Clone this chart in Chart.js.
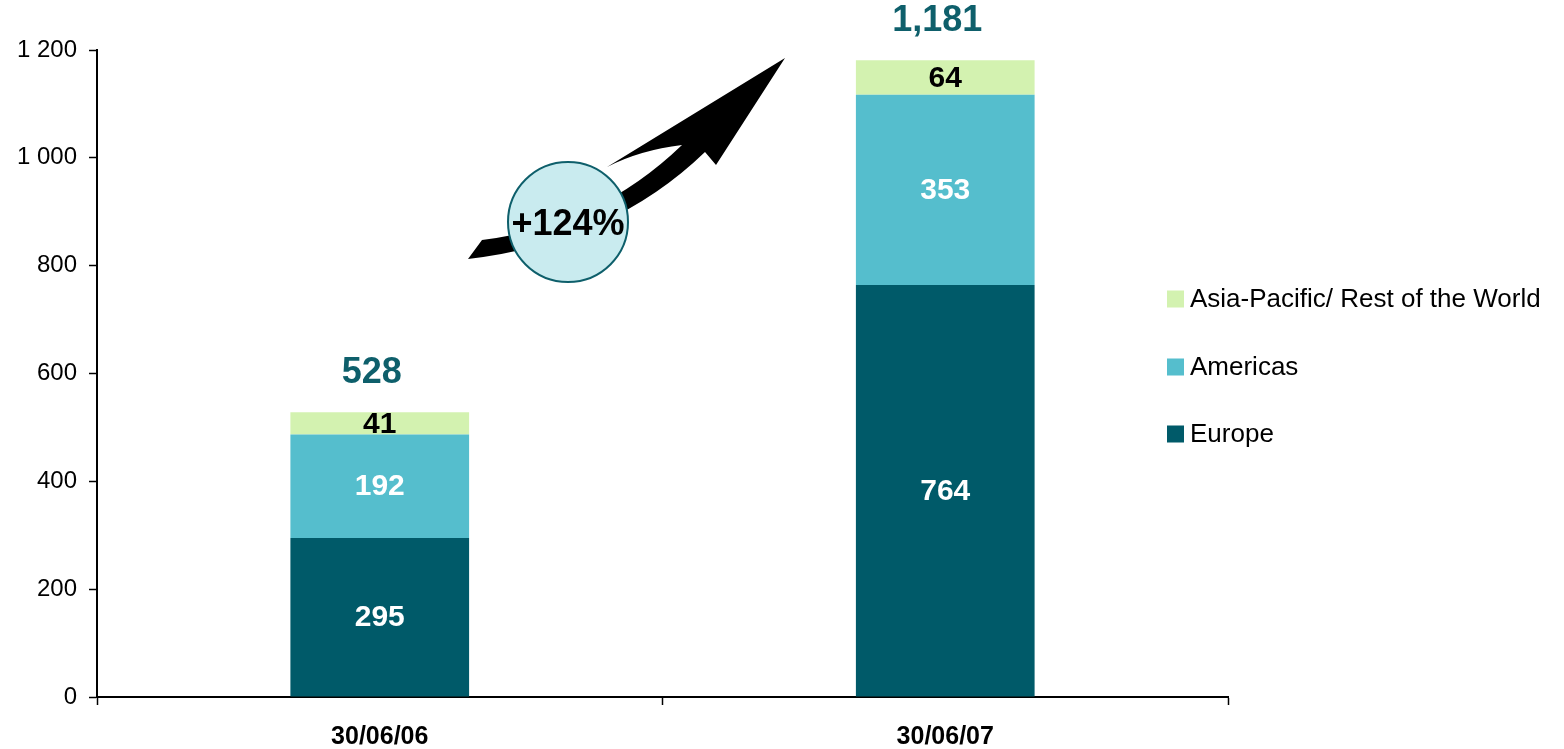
<!DOCTYPE html>
<html>
<head>
<meta charset="utf-8">
<script src="https://cdn.jsdelivr.net/npm/chart.js@4.4.0/dist/chart.umd.min.js"></script>
<style>
  html, body { margin: 0; padding: 0; background: #ffffff; }
  #wrap { width: 1564px; height: 749px; }
</style>
</head>
<body>
<div id="wrap"><canvas id="c" width="1564" height="749"></canvas></div>
<script>
const categories = ['30/06/06', '30/06/07'];
const europe = [295, 764];
const americas = [192, 353];
const asiaPacific = [41, 64];
const totalLabels = ['528', '1,181'];
const growthLabel = '+124%';
const yTicks = [0, 200, 400, 600, 800, 1000, 1200];

const FONT = '"Liberation Sans", Arial, Helvetica, sans-serif';
const COL_EU = '#005A69';
const COL_AM = '#55BECD';
const COL_AP = '#D3F2B0';
const COL_TOTAL = '#0E5F6B';

const legendItems = [
  { label: 'Asia-Pacific/ Rest of the World', color: COL_AP, y: 299 },
  { label: 'Americas', color: COL_AM, y: 367 },
  { label: 'Europe', color: COL_EU, y: 434 }
];

const labelPlugin = {
  id: 'labels',
  afterDatasetsDraw(chart) {
    const ctx = chart.ctx;
    ctx.save();
    ctx.textAlign = 'center';
    ctx.textBaseline = 'middle';
    chart.data.datasets.forEach((ds, di) => {
      const meta = chart.getDatasetMeta(di);
      meta.data.forEach((bar, i) => {
        const p = bar.getProps(['x', 'y', 'base'], true);
        ctx.fillStyle = ds.labelColor;
        ctx.font = 'bold 30px ' + FONT;
        ctx.fillText(String(ds.data[i]), p.x, (p.y + p.base) / 2 + 1);
      });
    });
    // totals
    const lastMeta = chart.getDatasetMeta(chart.data.datasets.length - 1);
    lastMeta.data.forEach((bar, i) => {
      const p = bar.getProps(['x', 'y'], true);
      ctx.fillStyle = COL_TOTAL;
      ctx.font = 'bold 36px ' + FONT;
      ctx.fillText(totalLabels[i], p.x - 8, p.y - 39);
    });

    // growth arrow
    ctx.fillStyle = '#000000';
    ctx.beginPath();
    ctx.moveTo(468, 259);
    ctx.lineTo(482, 240);
    ctx.quadraticCurveTo(598, 226, 682, 145);
    ctx.quadraticCurveTo(640, 150, 607, 167);
    ctx.lineTo(785, 58);
    ctx.lineTo(716, 165);
    ctx.lineTo(705, 152);
    ctx.quadraticCurveTo(612, 242, 468, 259);
    ctx.closePath();
    ctx.fill();

    // circle
    ctx.beginPath();
    ctx.arc(568, 222, 60, 0, Math.PI * 2);
    ctx.fillStyle = '#C9EBEF';
    ctx.fill();
    ctx.lineWidth = 2;
    ctx.strokeStyle = COL_TOTAL;
    ctx.stroke();
    ctx.fillStyle = '#000000';
    ctx.font = 'bold 36px ' + FONT;
    ctx.fillText(growthLabel, 568, 225);

    // legend
    ctx.textAlign = 'left';
    ctx.font = '26px ' + FONT;
    legendItems.forEach(it => {
      ctx.fillStyle = it.color;
      ctx.fillRect(1167, it.y - 8.5, 17, 17);
      ctx.fillStyle = '#000000';
      ctx.fillText(it.label, 1190, it.y + 1);
    });
    ctx.restore();
  }
};

new Chart(document.getElementById('c'), {
  type: 'bar',
  data: {
    labels: categories,
    datasets: [
      { label: 'Europe', data: europe, backgroundColor: COL_EU, labelColor: '#ffffff' },
      { label: 'Americas', data: americas, backgroundColor: COL_AM, labelColor: '#ffffff' },
      { label: 'Asia-Pacific/ Rest of the World', data: asiaPacific, backgroundColor: COL_AP, labelColor: '#000000' }
    ]
  },
  options: {
    responsive: false,
    devicePixelRatio: 1,
    animation: false,
    events: [],
    layout: { padding: { top: 50, right: 336, left: 0, bottom: 0 } },
    datasets: { bar: { categoryPercentage: 1, barPercentage: 0.316 } },
    plugins: { legend: { display: false }, tooltip: { enabled: false } },
    scales: {
      x: {
        stacked: true,
        grid: { offset: true, drawOnChartArea: false, drawTicks: true, tickLength: 8, tickColor: '#000', tickWidth: 1.5 },
        border: { color: '#000', width: 2 },
        ticks: { color: '#000', font: { family: FONT, size: 25, weight: 'bold' }, padding: 17 },
        afterFit(s) { s.height = 52; }
      },
      y: {
        stacked: true,
        min: 0,
        max: 1200,
        afterBuildTicks(s) { s.ticks = yTicks.map(v => ({ value: v })); },
        grid: { drawOnChartArea: false, drawTicks: true, tickLength: 8, tickColor: '#000', tickWidth: 1.5 },
        border: { color: '#000', width: 2 },
        ticks: {
          color: '#000',
          font: { family: FONT, size: 24 },
          padding: 12,
          callback: v => String(v).replace(/\B(?=(\d{3})+(?!\d))/g, ' ')
        },
        afterFit(s) { s.width = 97; }
      }
    }
  },
  plugins: [labelPlugin]
});
</script>
</body>
</html>
